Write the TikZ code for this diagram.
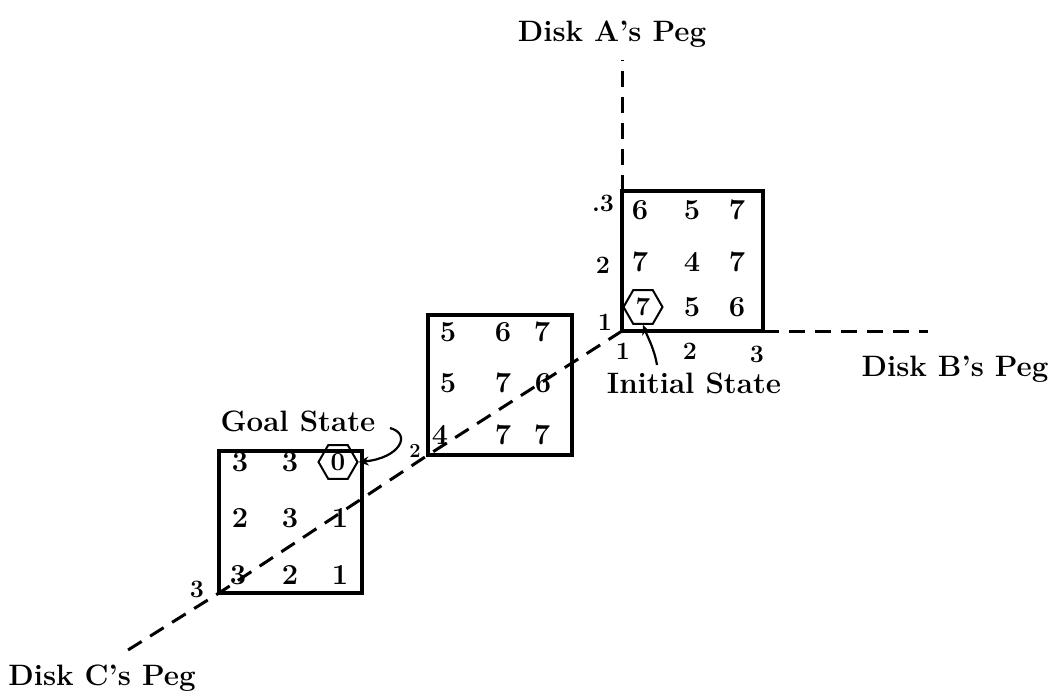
\documentclass[tikz,border=0pt]{standalone}
\usetikzlibrary{shapes.geometric,arrows.meta}
\begin{document}
\begin{tikzpicture}[x=1pt,y=-1pt,
  statebox/.style={draw,line width=3.2pt,minimum width=141pt,minimum height=140pt,inner sep=0pt,outer sep=0pt},
  pegline/.style={line width=3pt,dash pattern=on 16pt off 10pt},
  lbl/.style={font=\fontsize{29.5}{32}\selectfont\bfseries,inner sep=0pt},
  dig/.style={font=\fontsize{29}{31}\selectfont\bfseries,inner sep=0pt},
  tick/.style={font=\fontsize{25}{27}\selectfont\bfseries,inner sep=0pt},
  hexa/.style={draw,regular polygon,regular polygon sides=6,minimum size=39pt,inner sep=0pt,line width=2pt,font=\fontsize{26}{28}\selectfont\bfseries},
  ptr/.style={line width=2.2pt,-{Stealth[length=10pt,width=9pt]}}]
\useasboundingbox (0,0) rectangle (1051,695);
% boxes
\node[statebox] (b1) at (692.5,261) {};
\node[statebox,minimum width=144pt] (b2) at (500,385) {};
\node[statebox,minimum width=143pt,minimum height=142pt] (b3) at (290.5,522) {};
% peg end points
\coordinate (pa) at (622,60);
\coordinate (pb) at (928,331);
\coordinate (pc) at (128,650);
\draw[pegline] (b1.north west) -- (pa);
\draw[pegline] (b1.south east) -- (pb);
\draw[pegline] (b1.south west) -- (b2.south west) -- (b3.south west) -- (pc);
% labels
\node[lbl] (la) at (612,34) {Disk A's Peg};
\node[lbl] (lb) at (955,369) {Disk B's Peg};
\node[lbl] (lc) at (102,678) {Disk C's Peg};
\node[lbl] (li) at (694,383) {Initial State};
\node[lbl] (lg) at (298,421) {Goal State};
% box 1 digits
\node[dig] (a11) at (640,210) {6};
\node[dig] (a12) at (692,210) {5};
\node[dig] (a13) at (737,210) {7};
\node[dig] (a21) at (640,262) {7};
\node[dig] (a22) at (692,262) {4};
\node[dig] (a23) at (737,262) {7};
\node[hexa] (a31) at (643,307) {7};
\node[dig] (a32) at (692,307) {5};
\node[dig] (a33) at (737,307) {6};
% box 1 axis ticks
\node[tick] (t3) at (603,203) {.3};
\node[tick] (t2) at (603,265) {2};
\node[tick] (t1) at (605,322) {1};
\node[tick] (u1) at (623,351) {1};
\node[tick] (u2) at (690,351) {2};
\node[tick] (u3) at (757,354) {3};
% box 2 digits
\node[dig] (c11) at (448,332) {5};
\node[dig] (c12) at (503,332) {6};
\node[dig] (c13) at (542,332) {7};
\node[dig] (c21) at (448,383) {5};
\node[dig] (c22) at (503,383) {7};
\node[dig] (c23) at (543,383) {6};
\node[dig] (c31) at (440,435) {4};
\node[dig] (c32) at (503,435) {7};
\node[dig] (c33) at (542,435) {7};
\node[tick,font=\fontsize{20}{22}\selectfont\bfseries] (v2) at (415,451) {2};
% box 3 digits
\node[dig] (g11) at (240,462) {3};
\node[dig] (g12) at (290,462) {3};
\node[hexa] (g13) at (338,462) {0};
\node[dig] (g21) at (240,518) {2};
\node[dig] (g22) at (290,518) {3};
\node[dig] (g23) at (340,518) {1};
\node[dig] (g31) at (238,575) {3};
\node[dig] (g32) at (290,575) {2};
\node[dig] (g33) at (340,575) {1};
\node[tick] (w3) at (197,589) {3};
% pointers
\coordinate (ist) at (657,365);
\draw[ptr] (ist) .. controls (654,348) and (648,338) .. (a31.south);
\coordinate (gst) at (390,428);
\draw[ptr] (gst) .. controls (412,434) and (400,458) .. (g13.east);
\end{tikzpicture}
\end{document}
